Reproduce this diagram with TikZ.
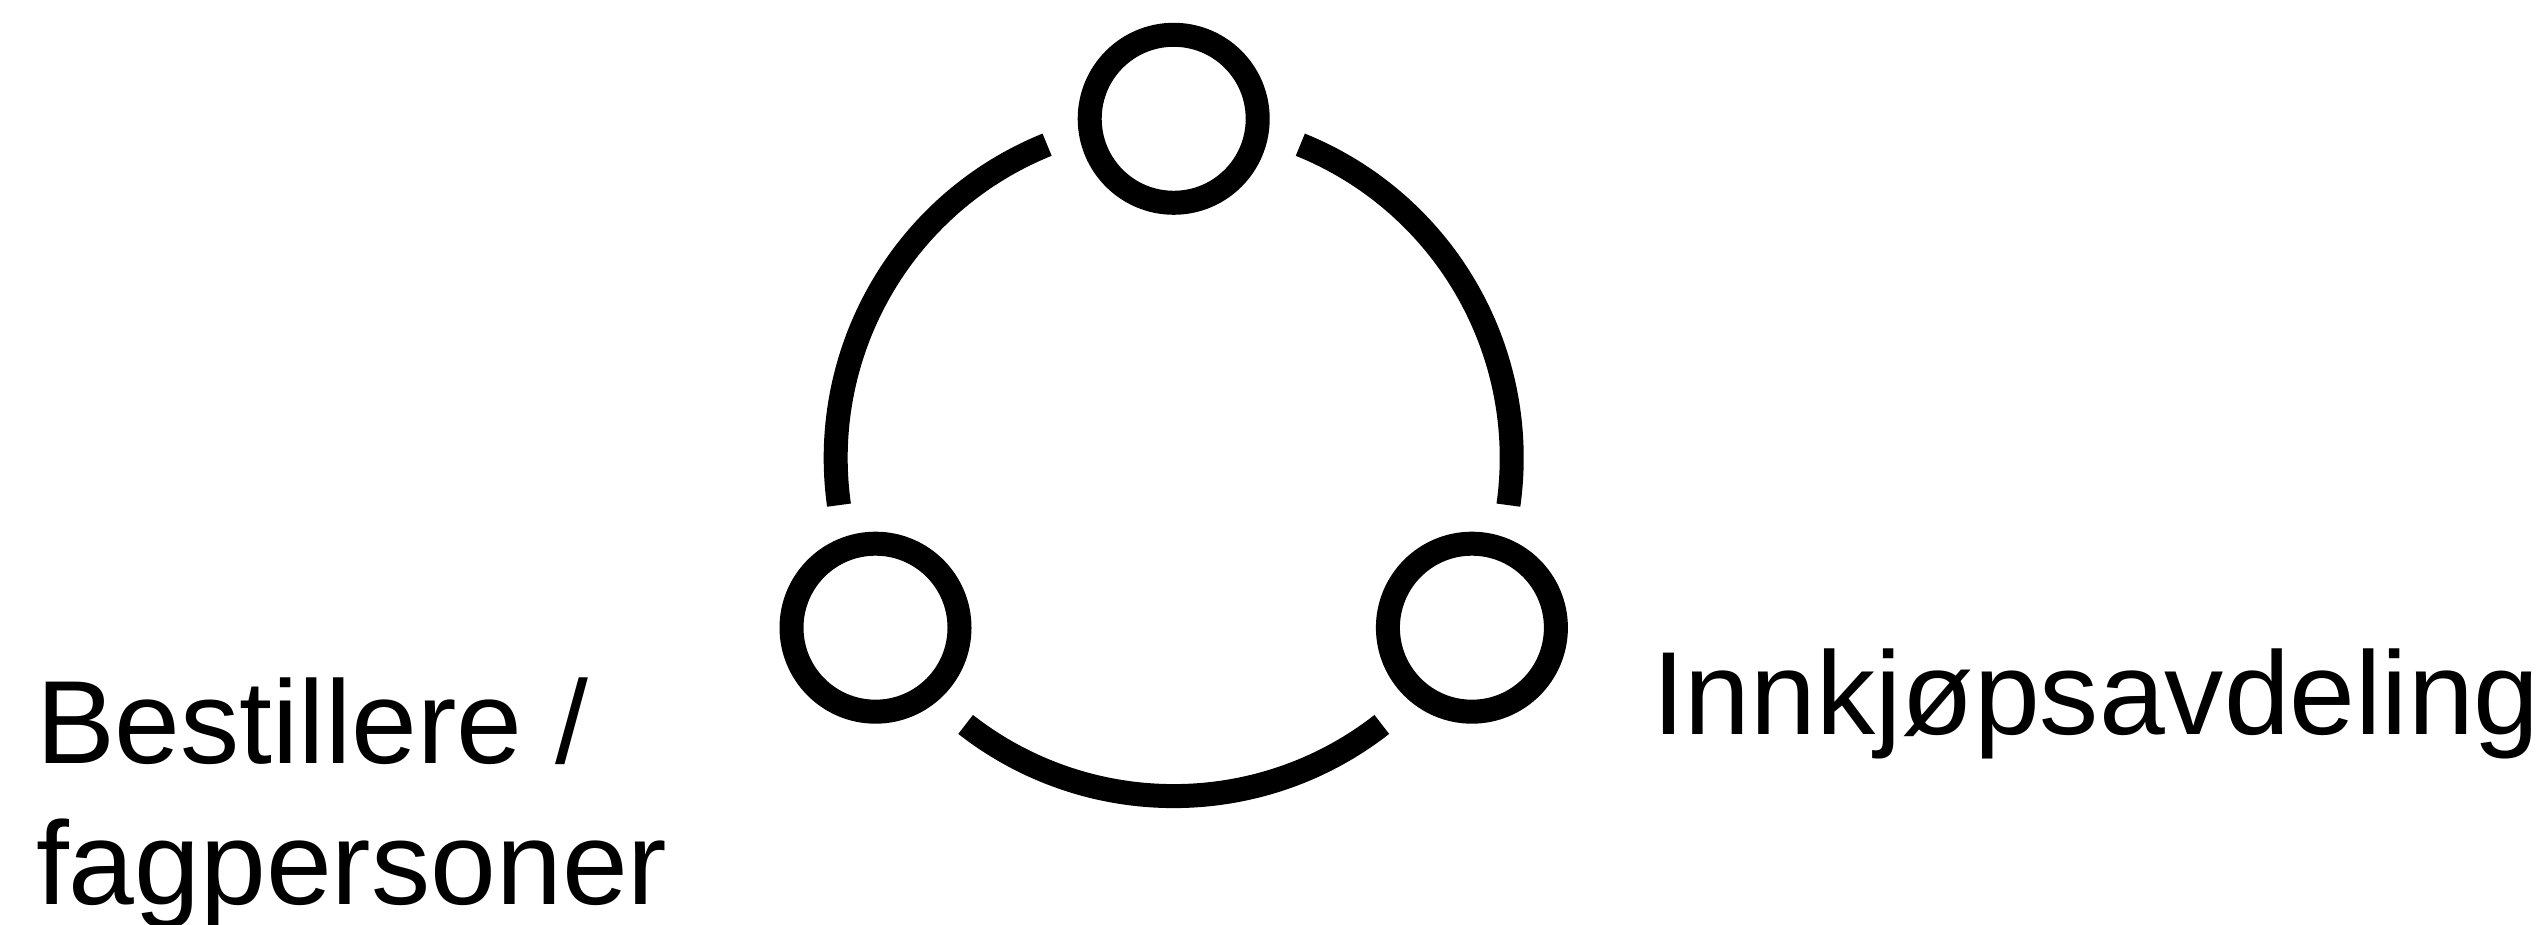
\documentclass[tikz,border=0pt]{standalone}
\usepackage{fontspec}
\setmainfont{Liberation Sans}
\begin{document}
\begin{tikzpicture}[x=1pt,y=1pt,
  ring/.style={circle,draw=black,line width=24pt,minimum size=168pt,inner sep=0pt},
  loop/.style={draw=black,line width=24pt,line cap=butt},
  label/.style={inner sep=0pt,outer sep=0pt,font=\fontsize{118.3}{141}\selectfont}]
\useasboundingbox (0,0) rectangle (2545,925);
\coordinate (C) at (1173.7,466.9);
\node[ring] (top) at (1173.7,806.2) {};
\node[ring] (left) at (875.5,297.3) {};
\node[ring] (right) at (1471.9,297.3) {};
\draw[loop] (C) ++(112:338) arc[start angle=112,end angle=188,radius=338];
\draw[loop] (C) ++(232:338) arc[start angle=232,end angle=308,radius=338];
\draw[loop] (C) ++(-8:338) arc[start angle=-8,end angle=68,radius=338];
\node[label,anchor=base west] (best) at (36,161) {Bestillere /};
\node[label,anchor=base west] (fag) at (36,20) {fagpersoner};
\node[label,anchor=base west] (inn) at (1652,190) {Innkjøpsavdeling};
\end{tikzpicture}
\end{document}
